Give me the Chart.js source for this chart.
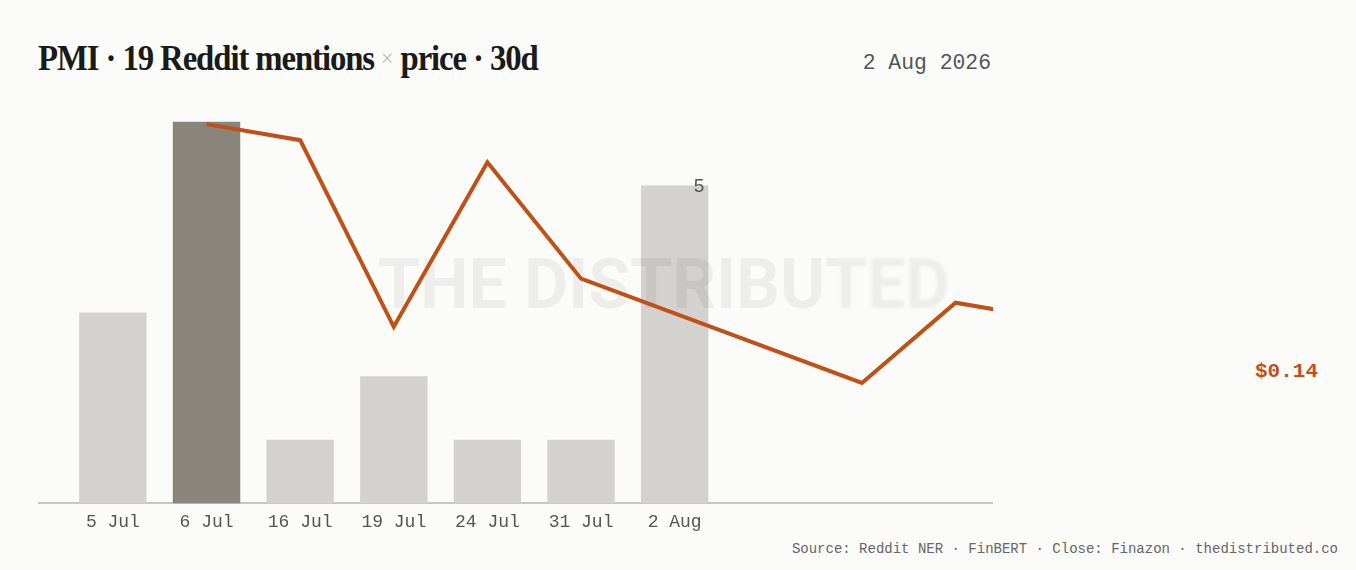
<!DOCTYPE html>
<html>
<head>
<meta charset="utf-8">
<script src="https://cdn.jsdelivr.net/npm/chart.js@4.4.1/dist/chart.umd.min.js"></script>
<style>
  html, body { margin: 0; padding: 0; background: #fbfbf9; }
  body { width: 1356px; height: 570px; position: relative; overflow: hidden; }
  .title {
    position: absolute; left: 38px; top: 36px;
    font-family: "Liberation Serif", "DejaVu Serif", serif;
    font-weight: bold; font-size: 36px; letter-spacing: -1.2px;
    color: #1a1a1a; white-space: nowrap; line-height: 44px;
    transform: scaleX(0.91); transform-origin: left center;
  }
  .title .x { color: #b8b8b4; font-weight: normal; font-size: 24px; letter-spacing: 0; position: relative; top: -4px; }
  .date {
    position: absolute; right: 365px; top: 50px;
    font-family: "Liberation Mono", "DejaVu Sans Mono", monospace;
    font-size: 21.4px; color: #555; line-height: 26px;
  }
  .price {
    position: absolute; right: 38px; top: 359px;
    font-family: "Liberation Mono", "DejaVu Sans Mono", monospace;
    font-size: 21px; font-weight: bold; color: #c0501a; line-height: 26px;
  }
  .source {
    position: absolute; right: 18px; top: 540px;
    font-family: "Liberation Mono", "DejaVu Sans Mono", monospace;
    font-size: 14px; color: #666; line-height: 18px;
  }
  .wrap { position: absolute; left: 38px; top: 90px; width: 955px; height: 451px; }
</style>
</head>
<body>
<div class="title">PMI · 19 Reddit mentions <span class="x">×</span> price · 30d</div>
<div class="date">2 Aug 2026</div>
<div class="price">$0.14</div>
<div class="source">Source: Reddit NER · FinBERT · Close: Finazon · thedistributed.co</div>
<div class="wrap"><canvas id="grafico"></canvas></div>
<script>
// mentions per day (bars)
const dias = ['5 Jul', '6 Jul', '16 Jul', '19 Jul', '24 Jul', '31 Jul', '2 Aug'];
const mencoes = [3, 6, 1, 2, 1, 1, 5];

// closing price (line), x = slot on the same axis as the bars
const precoSlot = [1, 2, 3, 4, 5, 8, 9, 10];
const precoValor = [0.1885, 0.1845, 0.138, 0.179, 0.150, 0.124, 0.144, 0.140];

const maxIdx = mencoes.indexOf(Math.max(...mencoes));
const coresBarra = mencoes.map((v, i) => i === maxIdx ? '#89847c' : '#d3d2ce');

const marcaDagua = {
    id: 'marcaDagua',
    beforeDatasetDraw(chart, args) {
        if (args.index !== 1) return;
        const ctx = chart.ctx;
        const texto = 'THE DISTRIBUTED';
        ctx.save();
        ctx.font = 'bold 70px Roboto, "Liberation Sans", sans-serif';
        const w = ctx.measureText(texto).width;
        const alvo = 572;
        const cx = chart.chartArea.left + 626;
        const base = 218;
        ctx.fillStyle = 'rgba(0,0,0,0.055)';
        ctx.textBaseline = 'alphabetic';
        ctx.textAlign = 'center';
        // sharp part
        ctx.save();
        ctx.beginPath();
        ctx.rect(0, 0, chart.chartArea.left + 800, chart.height);
        ctx.clip();
        ctx.translate(cx, base);
        ctx.scale(alvo / w, 1);
        ctx.fillText(texto, 0, 0);
        ctx.restore();
        // blurred tail
        ctx.save();
        ctx.beginPath();
        ctx.rect(chart.chartArea.left + 800, 0, chart.width, chart.height);
        ctx.clip();
        ctx.filter = 'blur(1.6px)';
        ctx.translate(cx, base);
        ctx.scale(alvo / w, 1);
        ctx.fillText(texto, 0, 0);
        ctx.restore();
        ctx.restore();
    }
};

const rotuloUltimo = {
    id: 'rotuloUltimo',
    afterDatasetsDraw(chart) {
        const meta = chart.getDatasetMeta(0);
        const i = mencoes.length - 1;
        const bar = meta.data[i];
        const ctx = chart.ctx;
        ctx.save();
        ctx.font = '19px "Liberation Sans", Arial, sans-serif';
        ctx.fillStyle = '#555';
        ctx.textAlign = 'right';
        ctx.textBaseline = 'middle';
        ctx.fillText(String(mencoes[i]), bar.x + bar.width / 2 - 4, bar.y + 1);
        ctx.restore();
    }
};

const data = {
    datasets: [{
        type: 'bar',
        data: mencoes.map((v, i) => ({ x: i, y: v })),
        backgroundColor: coresBarra,
        borderWidth: 0,
        barPercentage: 0.72,
        categoryPercentage: 1,
        yAxisID: 'y',
        order: 2
    }, {
        type: 'line',
        data: precoSlot.map((s, i) => ({ x: s, y: precoValor[i] })),
        borderColor: '#bf5118',
        borderWidth: 4,
        pointRadius: 0,
        tension: 0,
        yAxisID: 'y1',
        order: 1
    }]
};

const config = {
    data: data,
    plugins: [marcaDagua, rotuloUltimo],
    options: {
        responsive: true,
        maintainAspectRatio: false,
        animation: false,
        layout: { padding: 0 },
        plugins: {
            legend: { display: false },
            tooltip: { enabled: false }
        },
        scales: {
            x: {
                type: 'linear',
                min: -0.8,
                max: 9.4,
                offset: false,
                grid: { display: false, drawTicks: false, offset: false },
                border: { display: true, color: '#c6c6c4', width: 2 },
                afterBuildTicks: s => { s.ticks = dias.map((d, i) => ({ value: i })); },
                ticks: {
                    autoSkip: false,
                    maxRotation: 0,
                    padding: 8,
                    color: '#555',
                    font: { family: '"Liberation Mono", "DejaVu Sans Mono", monospace', size: 18 },
                    callback: v => dias[v] ?? ''
                }
            },
            y: {
                display: false,
                min: 0,
                max: 6.5
            },
            y1: {
                display: false,
                min: 0.094,
                max: 0.197
            }
        }
    }
};

const grafico = new Chart(document.getElementById('grafico'), config);
</script>
</body>
</html>
